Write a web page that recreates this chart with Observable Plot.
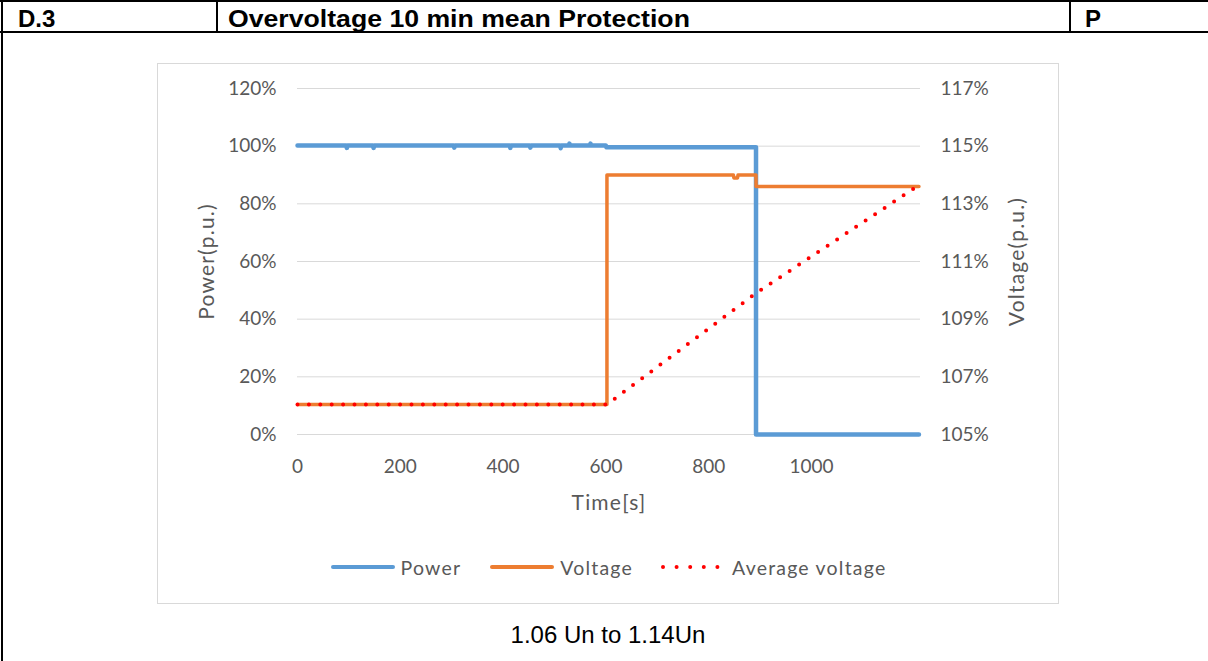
<!DOCTYPE html>
<html>
<head>
<meta charset="utf-8">
<script src="https://cdn.jsdelivr.net/npm/d3@7"></script>
<script src="https://cdn.jsdelivr.net/npm/@observablehq/plot@0.6"></script>
<style>
  body { margin: 0; background: #fff; width: 1208px; height: 661px; overflow: hidden; position: relative;
         font-family: "Liberation Sans", Arial, sans-serif; }
  .rule { position: absolute; background: #000; }
  .hd { position: absolute; top: 7px; font-weight: bold; font-size: 24px; line-height: 24px; white-space: nowrap; }
  #box { position: absolute; left: 157px; top: 63px; width: 902px; height: 541px; box-sizing: border-box;
         border: 1px solid #d9d9d9; }
  #chart { position: absolute; left: 0; top: 0; }
  #legend { position: absolute; left: 0; right: 0; top: 491px; height: 24px; display: flex; justify-content: center;
            align-items: center; font-family: Lato, sans-serif; font-size: 19.5px; letter-spacing: 1.2px; color: #595959; }
  .item { display: flex; align-items: center; margin: 0 14px; }
  .item svg { margin-right: 5px; }
  #caption { position: absolute; left: 0; width: 1216px; top: 623px; text-align: center; font-size: 24px; line-height: 24px; }
</style>
</head>
<body>
  <div class="rule" style="left:0;top:0;width:1208px;height:2px"></div>
  <div class="rule" style="left:0;top:31px;width:1208px;height:2px"></div>
  <div class="rule" style="left:1px;top:0;width:2px;height:661px"></div>
  <div class="rule" style="left:216px;top:0;width:2px;height:33px"></div>
  <div class="rule" style="left:1069px;top:0;width:2px;height:33px"></div>
  <div class="hd" style="left:18px">D.3</div>
  <div class="hd" style="left:228px;transform:scaleX(1.11);transform-origin:0 0">Overvoltage 10 min mean Protection</div>
  <div class="hd" style="left:1085px">P</div>

  <div id="box">
    <div id="chart"></div>
    <div id="legend"></div>
  </div>
  <div id="caption">1.06 Un to 1.14Un</div>

<script>
// Time axis (s) and tick labels
const xTicks = [0, 200, 400, 600, 800, 1000];
const xMax = 1212;

// Left axis: active power (% of rated)
const powerTicks = [0, 20, 40, 60, 80, 100, 120];
// Right axis: voltage (% of Un), drawn on the same vertical range
const voltageTicks = [105, 107, 109, 111, 113, 115, 117];

// Measured active power
const powerTime  = [0, 95, 96, 97, 147, 148, 149, 304, 305, 306, 413, 414, 415, 452, 453, 454,
                    511, 512, 513, 528, 529, 530, 569, 570, 571, 600, 601, 892, 892, 1209];
const powerValue = [100.2, 100.2, 99.4, 100.2, 100.2, 99.4, 100.2, 100.2, 99.5, 100.2, 100.2, 99.4, 100.2,
                    100.2, 99.5, 100.2, 100.2, 99.3, 100.2, 100.2, 100.9, 100.2, 100.2, 100.9, 100.2,
                    100.2, 99.6, 99.6, 0, 0];

// Measured terminal voltage
const voltageTime  = [0, 602, 602, 848, 849, 856, 857, 892, 892, 1209];
const voltageValue = [106.04, 106.04, 114.0, 114.0, 113.9, 113.9, 114.0, 114.0, 113.6, 113.6];

// 10 minute sliding mean of the voltage
const avgTime  = [0, 602, 892, 1209];
const avgValue = [106.04, 106.04, 109.9, 113.65];

const seriesNames  = ["Power", "Voltage", "Average voltage"];
const seriesColors = ["#5b9bd5", "#ed7d31", "#ff0000"];

// Voltage percent -> position on the power scale (105%..117% over 0..120)
const vToY = v => (v - voltageTicks[0]) * (powerTicks[powerTicks.length - 1] / (voltageTicks[voltageTicks.length - 1] - voltageTicks[0]));

const power   = powerTime.map((t, i) => ({t, y: powerValue[i]}));
const voltage = voltageTime.map((t, i) => ({t, y: vToY(voltageValue[i])}));
const average = avgTime.map((t, i) => ({t, y: vToY(avgValue[i])}));

const textColor = "#595959";
const titleStyle = {fill: textColor, fontSize: 21, textAnchor: "middle"};

const chart = Plot.plot({
  width: 900,
  height: 470,
  marginLeft: 139,
  marginRight: 138,
  marginTop: 24,
  marginBottom: 100,
  style: {fontFamily: "Lato, sans-serif", fontSize: "19px", color: textColor, background: "transparent"},
  x: {domain: [0, xMax]},
  y: {domain: [0, 120]},
  marks: [
    Plot.gridY(powerTicks, {stroke: "#d9d9d9", strokeOpacity: 1, strokeWidth: 1}),
    Plot.axisY(powerTicks, {anchor: "left", tickSize: 0, tickPadding: 21, tickFormat: d => d + "%", label: null}),
    Plot.axisY(voltageTicks.map(vToY), {anchor: "right", tickSize: 0, tickPadding: 20,
      tickFormat: (d, i) => voltageTicks[i] + "%", label: null}),
    Plot.axisX(xTicks, {tickSize: 0, tickPadding: 25, tickFormat: d => String(d), label: null}),
    Plot.text(["Power(p.u.)"], {frameAnchor: "left", dx: -90, rotate: -90, ...titleStyle}),
    Plot.text(["Voltage(p.u.)"], {frameAnchor: "right", dx: 97, rotate: -90, ...titleStyle}),
    Plot.text(["Time[s]"], {frameAnchor: "bottom", dy: 75, ...titleStyle}),
    Plot.line(power, {x: "t", y: "y", stroke: seriesColors[0], strokeWidth: 4.5}),
    Plot.line(voltage, {x: "t", y: "y", stroke: seriesColors[1], strokeWidth: 3.5}),
    Plot.line(average, {x: "t", y: "y", stroke: seriesColors[2], strokeWidth: 4,
      strokeDasharray: "0 11.4", strokeLinecap: "round"})
  ]
});
// Axis titles are set a little wider than the tick labels
d3.select(chart).selectAll('g[aria-label="text"] text').style("letter-spacing", "1.2px");
document.getElementById("chart").appendChild(chart);

// Legend below the plot
const legend = d3.select("#legend");
seriesNames.forEach((name, i) => {
  const item = legend.append("div").attr("class", "item");
  const sw = item.append("svg").attr("width", 66).attr("height", 8);
  const ln = sw.append("line").attr("x1", 3).attr("x2", 63).attr("y1", 4).attr("y2", 4)
    .attr("stroke", seriesColors[i]).attr("stroke-width", 4).attr("stroke-linecap", "round");
  if (i === 2) ln.attr("stroke-dasharray", "0 13.6").attr("x1", 2).attr("x2", 70);
  item.append("span").text(name);
});
</script>
</body>
</html>
